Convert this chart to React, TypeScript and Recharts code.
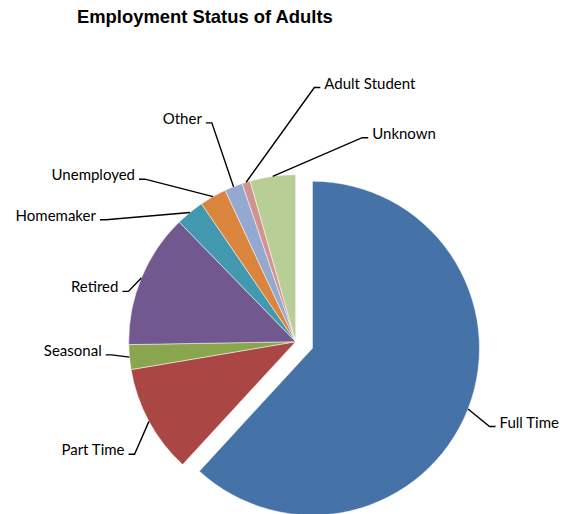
import { PieChart, Pie, Cell } from "recharts";

const NAMES = [
  "Full Time",
  "Part Time",
  "Seasonal",
  "Retired",
  "Homemaker",
  "Unemployed",
  "Other",
  "Adult Student",
  "Unknown",
];
const SHARES = [61.9, 10.5, 2.4, 13.0, 2.75, 2.6, 1.75, 0.8, 4.4];
const COLORS = [
  "#4572A7",
  "#AA4643",
  "#89A54E",
  "#71588F",
  "#4198AF",
  "#DB843D",
  "#93A9CF",
  "#D19392",
  "#B9CD96",
];

// leader elbow, relative to the slice's edge point
const LEADERS: [number, number][] = [
  [21.5, 17.6],
  [-14.4, 32.8],
  [-17.7, -2.3],
  [-12.9, 13.3],
  [-84, 7.3],
  [-68, -17.4],
  [-21.7, -63.8],
  [68.2, -94.7],
  [89.5, -38.6],
];

const DATA = NAMES.map((name, i) => ({ name, value: SHARES[i] }));

const CX = 295.7;
const CY = 341.7;
const R = 167;
const EXPLODE = 18;

const total = SHARES.reduce((a, b) => a + b, 0);
const ftMid = ((90 - (SHARES[0] / total) * 180) * Math.PI) / 180;
const CX_FT = CX + EXPLODE * Math.cos(ftMid);
const CY_FT = CY - EXPLODE * Math.sin(ftMid);

const makeLabel = (exploded: boolean) => (props: any) => {
  const { cx, cy, midAngle, outerRadius, index, name } = props;
  if ((index === 0) !== exploded) return null;
  const rad = (-midAngle * Math.PI) / 180;
  const ex = cx + outerRadius * Math.cos(rad);
  const ey = cy + outerRadius * Math.sin(rad);
  const [dx, dy] = LEADERS[index];
  const bx = ex + dx;
  const by = ey + dy;
  const dir = dx >= 0 ? 1 : -1;
  const hx = bx + dir * 6;
  return (
    <g key={`lbl-${index}`}>
      <path
        d={`M${ex},${ey}L${bx},${by}L${hx},${by}`}
        stroke="#000"
        strokeWidth={1.4}
        fill="none"
      />
      <text
        x={hx + dir * 4}
        y={by + 1}
        textAnchor={dir > 0 ? "start" : "end"}
        fontFamily="Lato, 'Liberation Sans', sans-serif"
        fontSize={15}
        fill="#000"
      >
        {name}
      </text>
    </g>
  );
};

export default function App() {
  return (
    <div style={{ position: "relative", width: 562, height: 514, background: "#fff" }}>
      <style>{"body{margin:0}"}</style>
      <div
        style={{
          position: "absolute",
          left: 77,
          top: 8,
          fontFamily: "'Liberation Sans', Arial, sans-serif",
          fontWeight: "bold",
          fontSize: 18.4,
          lineHeight: "18px",
          color: "#000",
          whiteSpace: "nowrap",
        }}
      >
        Employment Status of Adults
      </div>
      <PieChart width={562} height={514} margin={{ top: 0, right: 0, bottom: 0, left: 0 }}>
        <Pie
          data={DATA}
          dataKey="value"
          nameKey="name"
          cx={CX}
          cy={CY}
          outerRadius={R}
          startAngle={90}
          endAngle={-270}
          stroke="#ffffff"
          strokeWidth={0.5}
          label={makeLabel(false)}
          labelLine={false}
          isAnimationActive={false}
        >
          {DATA.map((d, i) => (
            <Cell key={d.name} fill={i === 0 ? "none" : COLORS[i]} stroke={i === 0 ? "none" : "#ffffff"} />
          ))}
        </Pie>
        <Pie
          data={DATA}
          dataKey="value"
          nameKey="name"
          cx={CX_FT}
          cy={CY_FT}
          outerRadius={R}
          startAngle={90}
          endAngle={-270}
          stroke="#ffffff"
          strokeWidth={0.5}
          label={makeLabel(true)}
          labelLine={false}
          isAnimationActive={false}
        >
          {DATA.map((d, i) => (
            <Cell key={d.name} fill={i === 0 ? COLORS[0] : "none"} stroke={i === 0 ? "#ffffff" : "none"} />
          ))}
        </Pie>
      </PieChart>
    </div>
  );
}
